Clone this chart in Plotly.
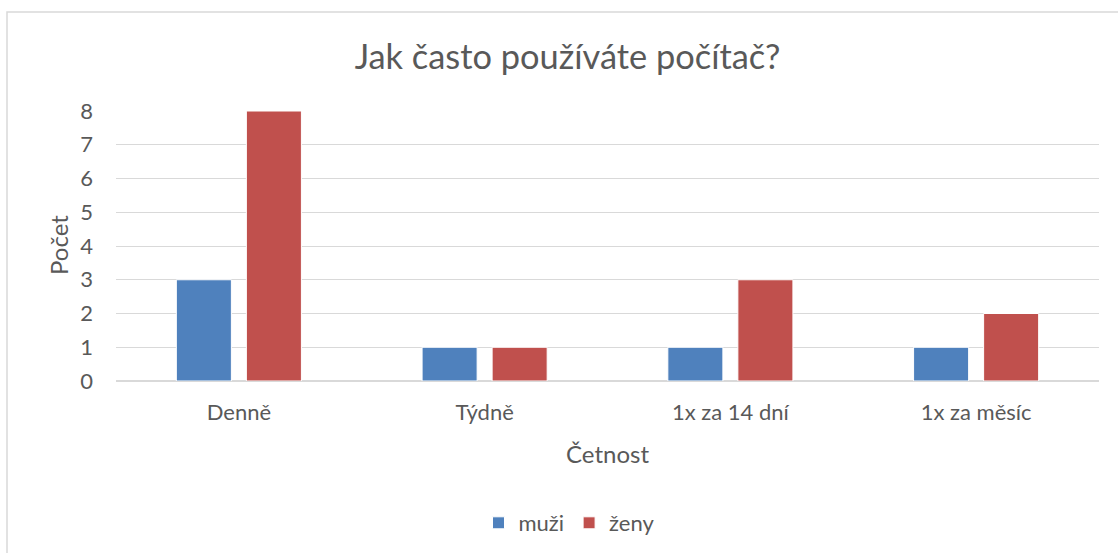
import plotly.graph_objects as go

categories = ["Denně", "Týdně", "1x za 14 dní", "1x za měsíc"]
muzi = [3, 1, 1, 1]
zeny = [8, 1, 3, 2]
y_ticks = [0, 1, 2, 3, 4, 5, 6, 7, 8]

FONT = "Lato, 'Open Sans', sans-serif"
TXT = "#595959"
GRID = "#D9D9D9"

fig = go.Figure()
fig.add_trace(go.Bar(name="muži", x=categories, y=muzi,
                     marker=dict(color="#4F81BD", line=dict(color="#FFFFFF", width=1))))
fig.add_trace(go.Bar(name="ženy", x=categories, y=zeny,
                     marker=dict(color="#C0504D", line=dict(color="#FFFFFF", width=1))))

W, H = 1118, 553
L, R, T, B = 116, 19, 111, 172
pw, ph = W - L - R, H - T - B

def px(x):
    return (x - L) / pw

def py(y):
    return (H - B - y) / ph

fig.update_layout(
    width=W, height=H,
    margin=dict(l=L, r=R, t=T, b=B, autoexpand=False),
    paper_bgcolor="white", plot_bgcolor="white",
    font=dict(family=FONT, color=TXT, size=22),
    barmode="group", bargap=0.43, bargroupgap=0.214,
    title=dict(text="Jak často používáte počítač?", x=567.5 / W, xanchor="center",
               y=1 - 57 / H, yanchor="middle", font=dict(size=34.4, color=TXT)),
    xaxis=dict(showgrid=False, showline=True, linecolor=GRID, linewidth=1,
               ticks="", ticklabelstandoff=12, tickfont=dict(size=22, color=TXT)),
    yaxis=dict(range=[0, 8], tickvals=y_ticks, showgrid=True, gridcolor=GRID, gridwidth=1,
               zeroline=True, zerolinecolor=GRID, ticks="", ticklabelstandoff=22,
               tickfont=dict(size=22, color=TXT)),
    legend=dict(orientation="h", x=px(569), xanchor="center",
                y=py(523), yanchor="middle", font=dict(size=22, color=TXT),
                itemwidth=30, traceorder="normal"),
    annotations=[
        dict(text="Četnost", xref="paper", yref="paper", x=px(607), y=py(453),
             xanchor="center", yanchor="middle", showarrow=False,
             font=dict(size=24, color=TXT)),
        dict(text="Počet", xref="paper", yref="paper", x=px(58), y=py(245),
             xanchor="center", yanchor="middle", showarrow=False, textangle=-90,
             font=dict(size=24, color=TXT)),
    ],
    shapes=[dict(type="rect", xref="paper", yref="paper", x0=px(7), y0=py(12),
                 x1=px(1130), y1=py(570), line=dict(color=GRID, width=1.5),
                 fillcolor="rgba(0,0,0,0)", layer="below")],
)

fig.write_html("out.html", config={"displayModeBar": False},
               post_script="document.body.style.margin='0px';document.body.style.overflow='hidden';")
